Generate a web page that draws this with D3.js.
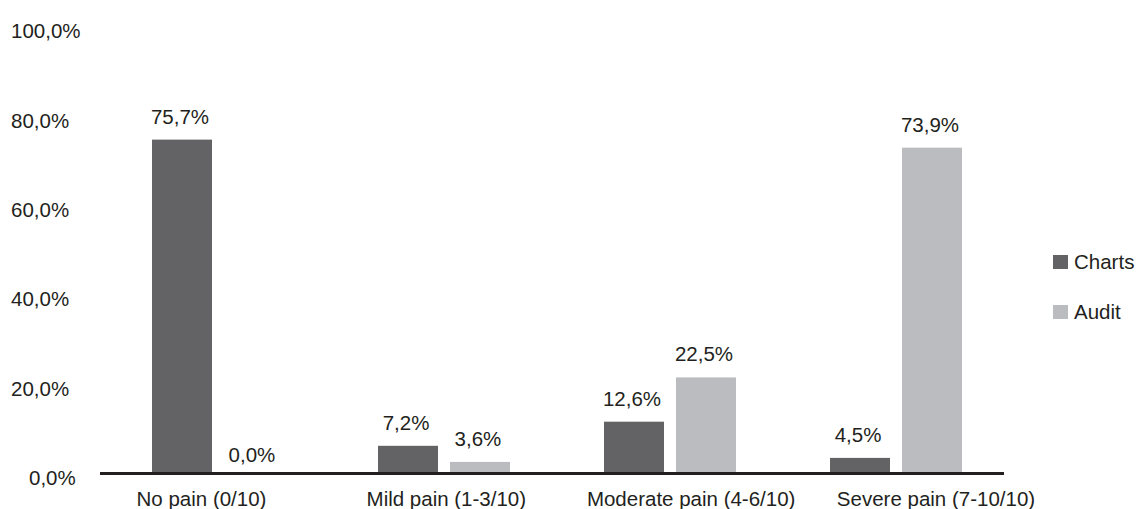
<!DOCTYPE html>
<html>
<head>
<meta charset="utf-8">
<script src="https://cdn.jsdelivr.net/npm/d3@7"></script>
<style>
  body { margin: 0; background: #fff; }
  svg text { font-family: "Liberation Sans", Arial, sans-serif; fill: #231f20; }
</style>
</head>
<body>
<svg class="chart" width="1137" height="509"></svg>
<script>
var categories = ["No pain (0/10)", "Mild pain (1-3/10)", "Moderate pain (4-6/10)", "Severe pain (7-10/10)"];
var series = ["Charts", "Audit"];
var chartsValues = [75.7, 7.2, 12.6, 4.5];
var auditValues = [0.0, 3.6, 22.5, 73.9];
var tickValues = [0, 20, 40, 60, 80, 100];

var colors = { "Charts": "#636365", "Audit": "#bbbcbf" };
var fmt = function(v) { return v.toFixed(1).replace(".", ",") + "%"; };

var svg = d3.select(".chart");
var axisY = 473.5;

var y = d3.scaleLinear().domain([0, 100]).range([478, 31]);

// outer groups
var x0 = d3.scaleBand()
    .domain(categories)
    .range([105, 1009])
    .paddingInner(0.416)
    .paddingOuter(0.208);

// bars within a group
var x1 = d3.scaleBand()
    .domain(series)
    .range([0, x0.bandwidth()])
    .paddingInner(12 / 72);

// category labels sit on their own spacing
var xLabel = d3.scalePoint()
    .domain(categories)
    .range([201.5, 936]);

var rows = categories.map(function(c, i) {
  return { cat: c, values: [
    { key: "Charts", value: chartsValues[i] },
    { key: "Audit", value: auditValues[i] }
  ]};
});

// bars stop at the axis line
svg.append("clipPath").attr("id", "plot")
  .append("rect")
    .attr("x", 0).attr("y", 0)
    .attr("width", 1137).attr("height", axisY);

// y tick labels
svg.append("g").selectAll("text")
  .data(tickValues)
  .enter().append("text")
    .attr("x", function(d) { return d === 0 ? 29 : 11; })
    .attr("y", function(d) { return y(d); })
    .attr("dy", "0.35em")
    .style("font-size", "20.5px")
    .text(fmt);

var group = svg.append("g").selectAll("g")
  .data(rows)
  .enter().append("g")
    .attr("transform", function(d) { return "translate(" + x0(d.cat) + ",0)"; });

group.append("g")
    .attr("clip-path", "url(#plot)")
  .selectAll("rect")
  .data(function(d) { return d.values; })
  .enter().append("rect")
    .attr("x", function(d) { return x1(d.key); })
    .attr("width", x1.bandwidth())
    .attr("y", function(d) { return y(d.value); })
    .attr("height", function(d) { return y(0) - y(d.value); })
    .attr("fill", function(d) { return colors[d.key]; });

group.selectAll("text")
  .data(function(d) { return d.values; })
  .enter().append("text")
    .attr("x", function(d) { return x1(d.key) + x1.bandwidth() / 2 - 2; })
    .attr("y", function(d) { return y(d.value) - 16; })
    .attr("text-anchor", "middle")
    .style("font-size", "20.5px")
    .text(function(d) { return fmt(d.value); });

// x axis baseline
svg.append("line")
    .attr("x1", 100).attr("x2", 1004)
    .attr("y1", axisY).attr("y2", axisY)
    .attr("stroke", "#231f20")
    .attr("stroke-width", 3);

svg.append("g").selectAll("text")
  .data(categories)
  .enter().append("text")
    .attr("x", function(d) { return xLabel(d); })
    .attr("y", 506)
    .attr("text-anchor", "middle")
    .style("font-size", "20.5px")
    .text(function(d) { return d; });

// legend
var legend = svg.append("g").selectAll("g")
  .data(series)
  .enter().append("g")
    .attr("transform", function(d, i) { return "translate(1053," + (255 + i * 50) + ")"; });

legend.append("rect")
    .attr("width", 15).attr("height", 14)
    .attr("fill", function(d) { return colors[d]; });

legend.append("text")
    .attr("x", 21)
    .attr("y", 7)
    .attr("dy", "0.35em")
    .style("font-size", "20.5px")
    .text(function(d) { return d; });
</script>
</body>
</html>
